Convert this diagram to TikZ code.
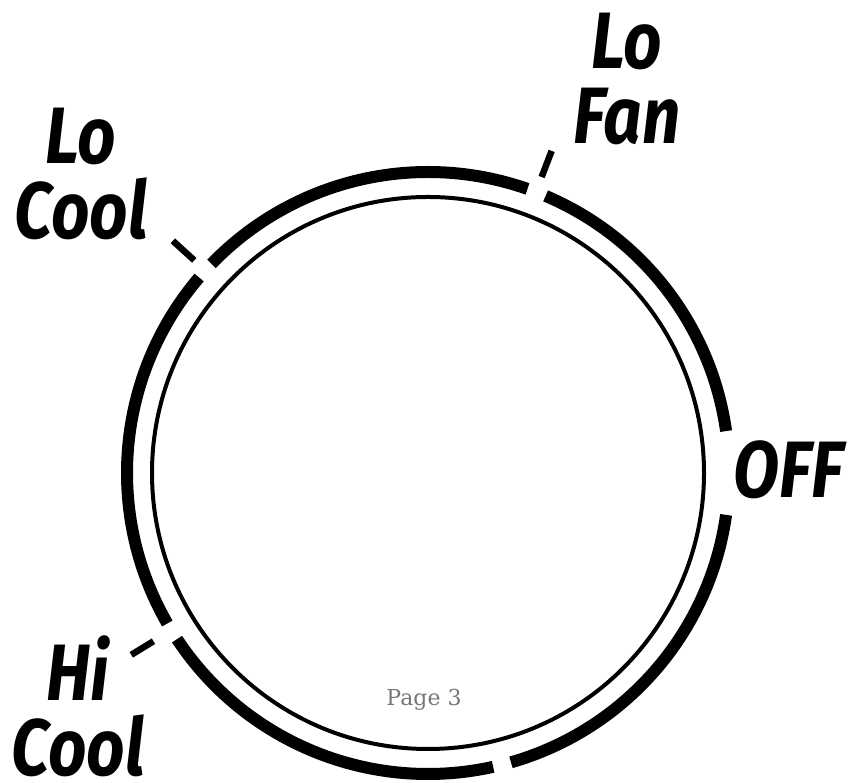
\documentclass[tikz,border=0pt]{standalone}
\usepackage{fontspec}
\newfontfamily\dialfont[FakeStretch=0.84]{Fira Sans}
\newfontfamily\pagefont{DejaVu Serif}
\definecolor{pagegray}{HTML}{777777}

\begin{document}
\begin{tikzpicture}[x=1pt, y=1pt,
  rim/.style={line width=12pt},
  notch/.style={line width=6.5pt},
  setting/.style={font=\dialfont\bfseries\itshape\fontsize{80}{75}\selectfont,
    align=center, inner sep=0pt}]
\useasboundingbox (0,0) rectangle (853,783);
\coordinate (c) at (428,310);
% inner ring
\draw[line width=4pt] (c) circle[radius=276pt];
% outer ring, broken at each setting
\draw[rim] ([shift={(8:301pt)}]c) arc[start angle=8, end angle=67, radius=301pt];
\draw[rim] ([shift={(70.7:301pt)}]c) arc[start angle=70.7, end angle=136, radius=301pt];
\draw[rim] ([shift={(139.5:301pt)}]c) arc[start angle=139.5, end angle=210, radius=301pt];
\draw[rim] ([shift={(213.5:301pt)}]c) arc[start angle=213.5, end angle=282.5, radius=301pt];
\draw[rim] ([shift={(286:301pt)}]c) arc[start angle=286, end angle=352, radius=301pt];
% notches
\draw[notch] ([shift={(69:317pt)}]c) -- ([shift={(69:345pt)}]c);
\draw[notch] ([shift={(137.7:316pt)}]c) -- ([shift={(137.7:345pt)}]c);
\draw[notch] ([shift={(211.5:322pt)}]c) -- ([shift={(211.5:348pt)}]c);
% settings
\node[setting] (lofan) at (627,704) {Lo\\Fan};
\node[setting] (locool) at (81,609) {Lo\\Cool};
\node[setting] (hicool) at (78,77) {Hi\\Cool};
\node[setting] (off) at (789,313) {OFF};
\node[font=\pagefont\fontsize{22}{26}\selectfont, text=pagegray, anchor=base]
  (page) at (424,77) {Page 3};
\end{tikzpicture}
\end{document}
